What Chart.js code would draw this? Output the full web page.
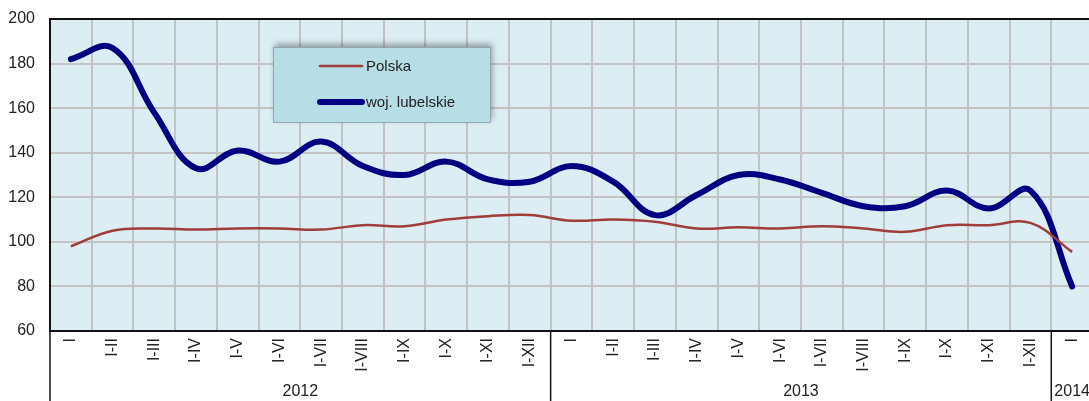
<!DOCTYPE html>
<html>
<head>
<meta charset="utf-8">
<script src="https://cdn.jsdelivr.net/npm/chart.js@4.4.1/dist/chart.umd.min.js"></script>
<style>
  html, body { margin: 0; padding: 0; background: #fff; overflow: hidden; width: 1089px; height: 401px; }
  #wrap { position: relative; width: 1093px; height: 401px; }
</style>
</head>
<body>
<div id="wrap"><canvas id="chart"></canvas></div>
<script>
const months = ['I', 'I-II', 'I-III', 'I-IV', 'I-V', 'I-VI', 'I-VII', 'I-VIII', 'I-IX', 'I-X', 'I-XI', 'I-XII',
  'I', 'I-II', 'I-III', 'I-IV', 'I-V', 'I-VI', 'I-VII', 'I-VIII', 'I-IX', 'I-X', 'I-XI', 'I-XII', 'I'];
const years = ['2012', '2013', '2014'];
const yearOf = [0,0,0,0,0,0,0,0,0,0,0,0, 1,1,1,1,1,1,1,1,1,1,1,1, 2];

const polska = [98, 105, 106, 105.5, 106, 106, 105.5, 107.5, 107, 110, 111.5, 112,
  109.5, 110, 109, 106, 106.5, 106, 107, 106, 104.5, 107.5, 107.5, 108.5, 95.5];
const lubelskie = [182, 187, 158, 133, 141, 136, 145, 134, 130, 136, 128, 127,
  134, 127, 112, 121, 130, 128, 122, 116, 116, 123, 115, 123, 80];

const FONT = '"Liberation Sans Narrow", "Arial Narrow", "Liberation Sans", Arial, sans-serif';

const plotBg = {
  id: 'plotBg',
  beforeDraw(chart) {
    const { ctx, chartArea: a } = chart;
    ctx.save();
    ctx.fillStyle = '#dcedf3';
    ctx.fillRect(a.left, a.top, a.right - a.left, a.bottom - a.top);
    ctx.restore();
  },
  afterDatasetsDraw(chart) {
    const { ctx, chartArea: a } = chart;
    ctx.save();
    ctx.strokeStyle = '#111';
    ctx.lineWidth = 2;
    ctx.beginPath();
    ctx.moveTo(a.left, a.top);
    ctx.lineTo(a.right, a.top);
    ctx.stroke();
    ctx.restore();
  }
};

// year row under the month labels
const yearRow = {
  id: 'yearRow',
  afterDraw(chart) {
    const { ctx, chartArea: a, scales: { x } } = chart;
    const half = (x.getPixelForValue(1) - x.getPixelForValue(0)) / 2;
    const H = chart.height;
    ctx.save();
    ctx.strokeStyle = '#111';
    ctx.lineWidth = 1.5;
    ctx.fillStyle = '#222';
    ctx.font = '16px ' + FONT;
    ctx.textAlign = 'center';
    ctx.textBaseline = 'middle';
    years.forEach((yr, k) => {
      const idx = yearOf.map((v, i) => v === k ? i : -1).filter(i => i >= 0);
      const l = x.getPixelForValue(idx[0]) - half;
      const r = x.getPixelForValue(idx[idx.length - 1]) + half;
      ctx.beginPath();
      ctx.moveTo(l, a.bottom);
      ctx.lineTo(l, H);
      ctx.stroke();
      ctx.fillText(yr, (l + r) / 2, H - 9);
    });
    ctx.restore();
  }
};

// legend box inside the plot
const boxLegend = {
  id: 'boxLegend',
  afterDraw(chart) {
    const { ctx } = chart;
    const bx = 273, by = 47, bw = 217, bh = 75;
    ctx.save();
    ctx.shadowColor = 'rgba(0,0,0,0.35)';
    ctx.shadowBlur = 6;
    ctx.shadowOffsetX = 2;
    ctx.shadowOffsetY = -3;
    ctx.fillStyle = '#b7dde6';
    ctx.fillRect(bx, by, bw, bh);
    ctx.restore();
    ctx.save();
    ctx.strokeStyle = '#8fa9b0';
    ctx.lineWidth = 1;
    ctx.strokeRect(bx + 0.5, by + 0.5, bw, bh);
    ctx.font = '15px ' + FONT;
    ctx.fillStyle = '#222';
    ctx.textBaseline = 'middle';
    ctx.lineCap = 'round';
    chart.data.datasets.forEach((ds, i) => {
      const yy = by + 19 + i * 36;
      ctx.strokeStyle = ds.borderColor;
      ctx.lineWidth = ds.borderWidth;
      ctx.beginPath();
      ctx.moveTo(bx + 47, yy);
      ctx.lineTo(bx + 89, yy);
      ctx.stroke();
      ctx.fillText(ds.label, bx + 93, yy + 1);
    });
    ctx.restore();
  }
};

new Chart(document.getElementById('chart'), {
  type: 'line',
  data: {
    labels: months,
    datasets: [
      {
        label: 'Polska',
        data: polska,
        borderColor: '#a03c3a',
        borderWidth: 2.5,
        pointRadius: 0,
        tension: 0.4,
        fill: false
      },
      {
        label: 'woj. lubelskie',
        data: lubelskie,
        borderColor: '#000080',
        borderWidth: 6,
        borderCapStyle: 'round',
        pointRadius: 0,
        tension: 0.4,
        fill: false
      }
    ]
  },
  options: {
    responsive: true,
    maintainAspectRatio: false,
    animation: false,
    layout: { padding: { top: 19, right: 0, left: 0, bottom: 0 } },
    plugins: {
      legend: { display: false },
      tooltip: { enabled: false }
    },
    scales: {
      x: {
        offset: true,
        grid: { offset: true, color: '#c3c3c3', lineWidth: 2, drawTicks: false },
        border: { color: '#111', width: 2 },
        ticks: {
          autoSkip: false,
          maxRotation: 90,
          minRotation: 90,
          padding: 7,
          color: '#222',
          font: { family: FONT, size: 16 }
        },
        afterFit(scale) {
          scale.height = 70;
          scale.paddingLeft = 0;
          scale.paddingRight = 0;
        }
      },
      y: {
        min: 60,
        max: 200,
        grid: { color: '#c3c3c3', lineWidth: 2, drawTicks: false },
        border: { color: '#111', width: 2 },
        ticks: {
          stepSize: 20,
          padding: 15,
          color: '#222',
          font: { family: FONT, size: 16 }
        },
        afterFit(scale) {
          scale.width = 50;
          scale.paddingTop = 0;
          scale.paddingBottom = 0;
        }
      }
    }
  },
  plugins: [plotBg, yearRow, boxLegend]
});
</script>
</body>
</html>
